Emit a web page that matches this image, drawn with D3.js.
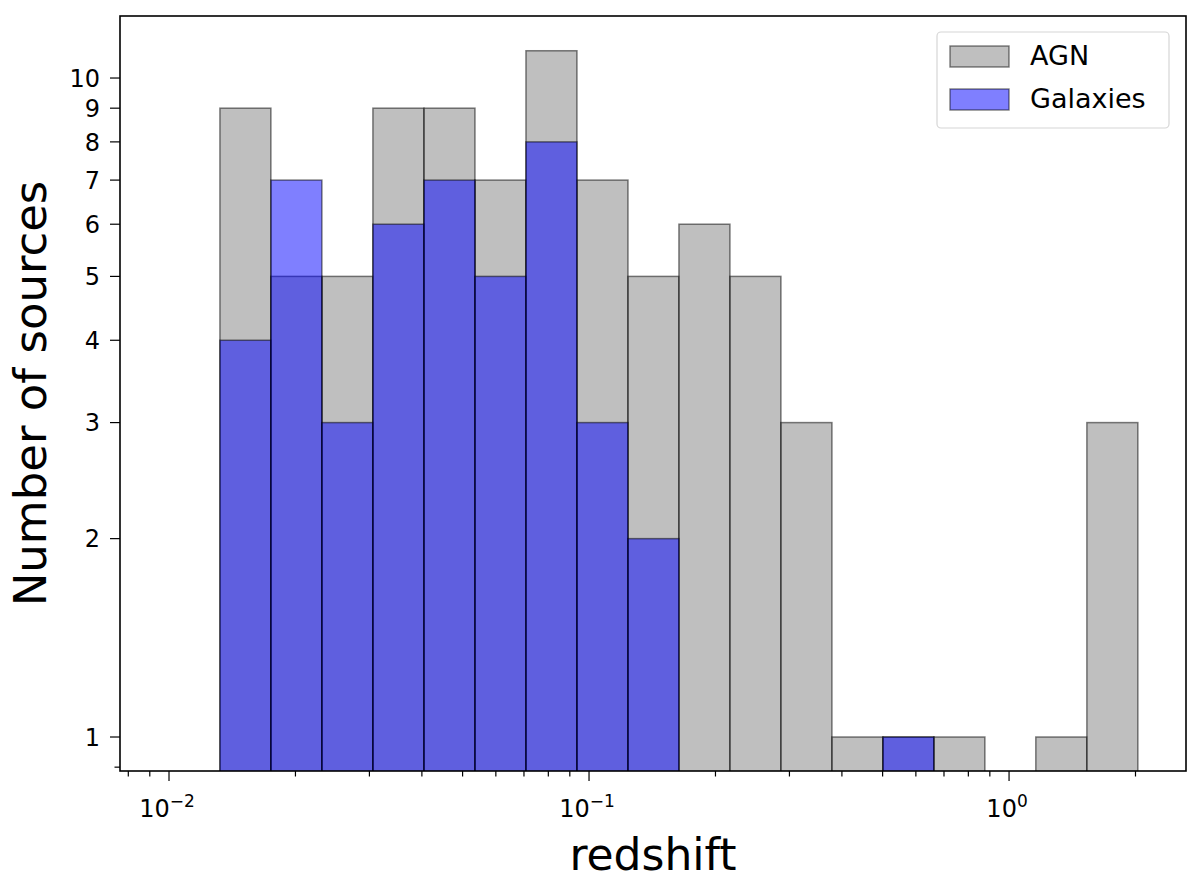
<!DOCTYPE html>
<html>
<head>
<meta charset="utf-8">
<script src="https://cdn.jsdelivr.net/npm/d3@7"></script>
<style>
  body { margin: 0; background: #fff; }
  text { font-family: "DejaVu Sans", sans-serif; fill: #000; }
</style>
</head>
<body>
<div id="chart"></div>
<script>
// bin edges of the log-spaced histogram (redshift)
const binEdges = [0.01322, 0.01748, 0.02312, 0.03058, 0.04046, 0.05351, 0.07077, 0.09359,
  0.1238, 0.1637, 0.2165, 0.2863, 0.3787, 0.5009, 0.6622, 0.8758, 1.158, 1.532, 2.026];
// counts per bin
const agnCounts = [9, 5, 5, 9, 9, 7, 11, 7, 5, 6, 5, 3, 1, 1, 1, 0, 1, 3];
const galaxyCounts = [4, 7, 3, 6, 7, 5, 8, 3, 2, 0, 0, 0, 0, 1, 0, 0, 0, 0];
const seriesNames = ["AGN", "Galaxies"];
const seriesColors = ["#808080", "#0000ff"];

const width = 1200, height = 884;
const margin = { left: 120, right: 1186, top: 16, bottom: 771 };

const svg = d3.select("#chart").append("svg")
  .attr("width", width)
  .attr("height", height);

const x = d3.scaleLog().domain([0.007644, 2.638]).range([margin.left, margin.right]);
const y = d3.scaleLog().domain([0.888, 12.42]).range([margin.bottom, margin.top]);

svg.append("clipPath").attr("id", "plotclip")
  .append("rect")
  .attr("x", margin.left).attr("y", margin.top)
  .attr("width", margin.right - margin.left)
  .attr("height", margin.bottom - margin.top);

const plot = svg.append("g").attr("clip-path", "url(#plotclip)");

// turn counts into bins, skip empty ones (log scale)
function toBins(counts) {
  return counts.map((c, i) => ({ x0: binEdges[i], x1: binEdges[i + 1], n: c }))
    .filter(d => d.n > 0);
}

[agnCounts, galaxyCounts].forEach(function(counts, s) {
  plot.append("g").selectAll("rect")
    .data(toBins(counts))
    .enter()
    .append("rect")
    .attr("x", d => x(d.x0))
    .attr("width", d => x(d.x1) - x(d.x0))
    .attr("y", d => y(d.n))
    .attr("height", d => margin.bottom + 5 - y(d.n))
    .attr("fill", seriesColors[s])
    .attr("fill-opacity", 0.5)
    .attr("stroke", "#000")
    .attr("stroke-opacity", 0.5)
    .attr("stroke-width", 1.5);
});

// x ticks
const xTicks = x.ticks();
const isMajor = v => Math.abs(Math.log10(v) - Math.round(Math.log10(v))) < 1e-6;
const xt = svg.append("g");
xt.selectAll("line")
  .data(xTicks)
  .enter()
  .append("line")
  .attr("x1", d => x(d)).attr("x2", d => x(d))
  .attr("y1", margin.bottom)
  .attr("y2", d => margin.bottom + (isMajor(d) ? 10 : 5.5))
  .attr("stroke", "#000")
  .attr("stroke-width", 1.2);

const xl = xt.selectAll("text")
  .data(xTicks.filter(isMajor))
  .enter()
  .append("text")
  .attr("x", d => x(d) - 2)
  .attr("y", 817)
  .attr("text-anchor", "middle")
  .style("font-size", "24px");
xl.append("tspan").text("10");
xl.append("tspan")
  .attr("dy", -10)
  .style("font-size", "17px")
  .text(d => { const e = Math.round(Math.log10(d)); return e < 0 ? "\u2212" + (-e) : String(e); });

// y ticks
const yTicks = y.ticks();
const yt = svg.append("g");
yt.selectAll("line")
  .data(yTicks)
  .enter()
  .append("line")
  .attr("x1", margin.left)
  .attr("x2", d => margin.left - (d >= 1 ? 10 : 5.5))
  .attr("y1", d => y(d)).attr("y2", d => y(d))
  .attr("stroke", "#000")
  .attr("stroke-width", 1.2);

yt.selectAll("text")
  .data(yTicks.filter(d => d >= 1))
  .enter()
  .append("text")
  .attr("x", 100)
  .attr("y", d => y(d))
  .attr("dy", "0.36em")
  .attr("text-anchor", "end")
  .style("font-size", "24px")
  .text(d => d3.format("d")(d));

// frame
svg.append("rect")
  .attr("x", margin.left).attr("y", margin.top)
  .attr("width", margin.right - margin.left)
  .attr("height", margin.bottom - margin.top)
  .attr("fill", "none")
  .attr("stroke", "#000")
  .attr("stroke-width", 1.6);

// axis labels
svg.append("text")
  .attr("x", (margin.left + margin.right) / 2)
  .attr("y", 870)
  .attr("text-anchor", "middle")
  .style("font-size", "44px")
  .text("redshift");

svg.append("text")
  .attr("transform", `translate(46,${(margin.top + margin.bottom) / 2}) rotate(-90)`)
  .attr("text-anchor", "middle")
  .style("font-size", "45px")
  .text("Number of sources");

// legend
const legend = svg.append("g");
legend.append("rect")
  .attr("x", 937).attr("y", 32)
  .attr("width", 232).attr("height", 96)
  .attr("rx", 4)
  .attr("fill", "#fff")
  .attr("fill-opacity", 0.8)
  .attr("stroke", "#d6d6d6")
  .attr("stroke-width", 1.2);

const items = legend.selectAll(".item")
  .data(seriesNames)
  .enter()
  .append("g")
  .attr("class", "item")
  .attr("transform", (d, i) => `translate(0,${i * 43})`);

items.append("rect")
  .attr("x", 950).attr("y", 46)
  .attr("width", 59).attr("height", 21)
  .attr("fill", (d, i) => seriesColors[i])
  .attr("fill-opacity", 0.5)
  .attr("stroke", "#000")
  .attr("stroke-opacity", 0.5)
  .attr("stroke-width", 1.4);

items.append("text")
  .attr("x", 1030)
  .attr("y", 65)
  .style("font-size", "27px")
  .text(d => d);
</script>
</body>
</html>
